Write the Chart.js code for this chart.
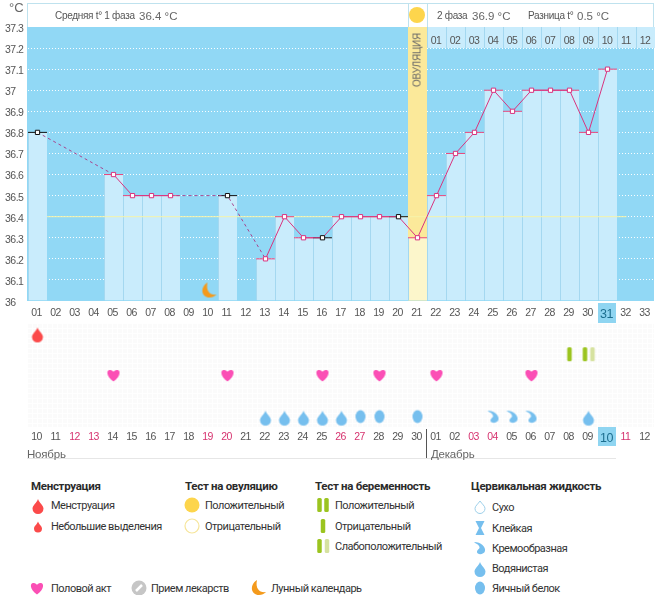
<!DOCTYPE html>
<html lang="ru"><head><meta charset="utf-8">
<script src="https://cdn.jsdelivr.net/npm/chart.js@4"></script>
<style>
html,body{margin:0;padding:0;background:#fff;width:663px;height:595px;overflow:hidden}
#page{position:relative;width:663px;height:595px;font-family:Roboto,sans-serif;color:#333}
.a{position:absolute}
.t{position:absolute;white-space:nowrap;transform:translateY(-50%);font-size:11px;letter-spacing:-.5px;line-height:14px;margin-top:.5px}
.h{font-weight:700;font-size:11.5px;letter-spacing:-.3px;color:#2b2b2b}
.s{font-family:"Liberation Sans";color:#555;font-size:10px;letter-spacing:-.3px}
.b{font-family:"Liberation Sans";font-size:11.5px;color:#666;letter-spacing:0}
.m{font-family:"Liberation Sans";font-size:11.5px;color:#666;letter-spacing:-.2px}
canvas.i{position:absolute;transform:translate(-50%,-50%)}
</style></head><body>
<div id="page">
  <div class="a" style="left:27px;top:3px;width:625px;height:23px;background:#fff;border:1px solid #bfe2ee;border-bottom:none"></div>
  <div class="a" style="left:408px;top:3px;width:18px;height:24px;border-left:1px solid #bfe2ee;border-right:1px solid #bfe2ee"></div>
  <div class="a" style="left:598px;top:303px;width:18px;height:20px;background:#8fd5f1"></div>
  <div class="a" style="left:27px;top:323px;width:627px;height:104px;background-color:#fbfbfb;background-image:linear-gradient(#fff 1px,transparent 1px),linear-gradient(90deg,#fff 1px,transparent 1px);background-size:5px 5px"></div>
  <div class="a" style="left:598px;top:427px;width:18px;height:19px;background:#8fd5f1"></div>
  <div class="a" style="left:426px;top:429px;width:1px;height:29px;background:#555"></div>
  <div class="a" style="left:27px;top:458px;width:589px;height:1px;background:#e6e6e6"></div>
  <canvas id="tempChart" class="a" style="left:0;top:0"></canvas>
  <canvas id="eventChart" class="a" style="left:0;top:323px"></canvas>

  <div class="t" style="left:9px;top:7px;font-family:'Liberation Sans';font-size:13px;color:#666;letter-spacing:0">°C</div>
  <div class="t s" style="left:55px;top:15.5px">Средняя t° 1 фаза</div>
  <div class="t b" style="left:139px;top:15px">36.4 °C</div>
  <div class="t s" style="left:437px;top:15.5px">2 фаза</div>
  <div class="t b" style="left:472px;top:15px">36.9 °C</div>
  <div class="t s" style="left:528px;top:15.5px">Разница t°</div>
  <div class="t b" style="left:577px;top:15px">0.5 °C</div>
  <div class="a" style="left:409px;top:7px;width:16px;height:16px;border-radius:50%;background:#fdd54c"></div>
  <div class="a" style="left:417px;top:60px;transform:translate(-50%,-50%) rotate(-90deg);font-family:'Liberation Sans';font-size:10px;letter-spacing:-.2px;color:#666;white-space:nowrap">ОВУЛЯЦИЯ</div>

  <div class="t m" style="left:27px;top:453px">Ноябрь</div>
  <div class="t m" style="left:431px;top:453px">Декабрь</div>

  <div class="t h" style="left:31px;top:485.5px">Менструация</div>
  <div class="t" style="left:51px;top:505px">Менструация</div>
  <div class="t" style="left:51px;top:526px">Небольшие выделения</div>
  <div class="t h" style="left:185px;top:485.5px">Тест на овуляцию</div>
  <div class="t" style="left:205px;top:505px">Положительный</div>
  <div class="t" style="left:205px;top:526px">Отрицательный</div>
  <div class="t h" style="left:315px;top:485.5px">Тест на беременность</div>
  <div class="t" style="left:335px;top:505px">Положительный</div>
  <div class="t" style="left:335px;top:526px">Отрицательный</div>
  <div class="t" style="left:335px;top:546px">Слабоположительный</div>
  <div class="t h" style="left:471px;top:485.5px">Цервикальная жидкость</div>
  <div class="t" style="left:492px;top:507px">Сухо</div>
  <div class="t" style="left:492px;top:528px">Клейкая</div>
  <div class="t" style="left:492px;top:548px">Кремообразная</div>
  <div class="t" style="left:492px;top:568px">Водянистая</div>
  <div class="t" style="left:492px;top:588px">Яичный белок</div>
  <div class="t" style="left:51px;top:588px">Половой акт</div>
  <div class="t" style="left:151px;top:588px">Прием лекарств</div>
  <div class="t" style="left:271px;top:588px">Лунный календарь</div>
</div>
<script>
// ---------- data ----------
const cycleDays = ['01','02','03','04','05','06','07','08','09','10','11','12','13','14','15','16','17','18','19','20','21','22','23','24','25','26','27','28','29','30','31','32','33'];
const calendarDates = ['10','11','12','13','14','15','16','17','18','19','20','21','22','23','24','25','26','27','28','29','30','01','02','03','04','05','06','07','08','09','10','11','12'];
const weekendIndexes = [2,3,9,10,16,17,23,24,31];
const phase2Labels = ['','','','','','','','','','','','','','','','','','','','','','01','02','03','04','05','06','07','08','09','10','11','12'];
const temperatures = [36.8,null,null,null,36.6,36.5,36.5,36.5,null,null,36.5,null,36.2,36.4,36.3,36.3,36.4,36.4,36.4,36.4,36.3,36.5,36.7,36.8,37,36.9,37,37,37,36.8,37.1,null,null];
const uncertainDays = [0,10,15,19];
const ovulationDay = 20;
const coverlineTemp = 36.4;
const yMin = 36, yMax = 37.3;
const moonDays = [9];
const moonLevel = 36.05;
const eventRows = ['Менструация','Тест на беременность','Половой акт','Тест на овуляцию','Цервикальная жидкость'];
const menstruationDays = [0];
const testNegativeDays = [28];
const testWeakDays = [29];
const intercourseDays = [4,10,15,18,21,26];
const wateryDays = [12,13,14,15,16,29];
const eggWhiteDays = [17,18,20];
const creamyDays = [24,25,26];
</script>
<script>
// ---------- icons ----------
function paint(c,kind){
  const drop=(x,y,r,col)=>{c.fillStyle=col;c.beginPath();c.moveTo(x,y-r*1.65);c.bezierCurveTo(x+r*.25,y-r*.9,x+r,y-r*.5,x+r,y+.1*r);c.arc(x,y+.1*r,r,0,Math.PI);c.bezierCurveTo(x-r,y-r*.5,x-r*.25,y-r*.9,x,y-r*1.65);c.fill()};
  const bar=(x,y,w,h,col)=>{c.fillStyle=col;c.beginPath();c.roundRect(x-w/2,y-h/2,w,h,1.5);c.fill()};
  const W=c.canvas.width,m=W/2;
  switch(kind){
    case 'blood':drop(m,m+3,5.5,'#fb4a4a');break;
    case 'spot':drop(m,m+2,4,'#fb4a4a');break;
    case 'heart':c.fillStyle='#fb4fb5';c.beginPath();c.moveTo(m,m+6.5);c.bezierCurveTo(m-8,m+1,m-7,m-5.5,m-3.4,m-5);c.bezierCurveTo(m-1.5,m-5,m-.5,m-4,m,m-3);c.bezierCurveTo(m+.5,m-4,m+1.5,m-5,m+3.4,m-5);c.bezierCurveTo(m+7,m-5.5,m+8,m+1,m,m+6.5);c.fill();break;
    case 'moon':c.fillStyle='#f49a1c';c.beginPath();c.moveTo(m-1,m-8);c.bezierCurveTo(m-9,m-3,m-7,m+7,m+1,m+7);c.bezierCurveTo(m+4,m+7,m+6,m+6,m+8,m+4);c.bezierCurveTo(m+2,m+5,m-3,m+1,m-1,m-8);c.fill();break;
    case 'test2':bar(m-3.5,m,4.5,14,'#9bc41f');bar(m+3.5,m,4.5,14,'#9bc41f');break;
    case 'test1':bar(m,m,4.5,14,'#9bc41f');break;
    case 'testWeak':bar(m-3.5,m,4.5,14,'#9bc41f');bar(m+4,m,4.5,14,'#d6e2a0');break;
    case 'watery':drop(m,m+3,5.5,'#76bfee');break;
    case 'egg':c.fillStyle='#76bfee';c.beginPath();c.ellipse(m,m,5,6.5,0,0,7);c.fill();break;
    case 'creamy':c.fillStyle='#76bfee';c.beginPath();c.moveTo(m-6,m-6);c.bezierCurveTo(m+1,m-6,m+6,m-1,m+5,m+3);c.bezierCurveTo(m+4,m+7,m-3,m+7,m-3,m+4);c.bezierCurveTo(m-3,m+1,m+1,m+1,m-1,m-2);c.bezierCurveTo(m-2,m-4,m-4,m-4,m-6,m-6);c.fill();break;
    case 'dry':c.strokeStyle='#9ccfe9';c.lineWidth=1;c.beginPath();c.moveTo(m,m-6);c.bezierCurveTo(m+2,m-3,m+5,m-1,m+5,m+1.5);c.arc(m,m+1.5,5,0,Math.PI);c.bezierCurveTo(m-5,m-1,m-2,m-3,m,m-6);c.stroke();break;
    case 'sticky':c.fillStyle='#76bfee';c.beginPath();c.moveTo(m-4.5,m-7);c.lineTo(m+4.5,m-7);c.lineTo(m+1,m);c.lineTo(m+4.5,m+7);c.lineTo(m-4.5,m+7);c.lineTo(m-1,m);c.fill();break;
    case 'pill':c.fillStyle='#c6c6c6';c.beginPath();c.arc(m,m,7.5,0,7);c.fill();c.strokeStyle='#fff';c.lineWidth=2.5;c.beginPath();c.moveTo(m-3,m+3);c.lineTo(m+3,m-3);c.stroke();break;
    case 'sun':c.fillStyle='#fdd54c';c.beginPath();c.arc(m,m,7.5,0,7);c.fill();break;
    case 'sunOff':c.strokeStyle='#f6e59a';c.lineWidth=1.2;c.beginPath();c.arc(m,m,7,0,7);c.stroke();break;
  }
}
function icon(kind,size){const el=document.createElement('canvas');el.width=el.height=size||20;paint(el.getContext('2d'),kind);return el}
[['blood',38,505],['spot',38,526],['sun',192,505],['sunOff',192,526],['test2',323,505],['test1',323,526],['testWeak',323,546],
 ['dry',480,507],['sticky',480,528],['creamy',480,548],['watery',480,568],['egg',480,588],['heart',37,588],['pill',139,588],['moon',258,588]
].forEach(([k,x,y])=>{const e=icon(k);e.className='i';e.style.left=x+'px';e.style.top=y+'px';document.getElementById('page').appendChild(e)});

// ---------- helpers ----------
const fontTick={family:"'Liberation Sans'",size:10.5};
const at=(list,val)=>cycleDays.map((_,i)=>list.includes(i)?val:null);
const markerColor=ctx=>uncertainDays.includes(ctx.dataIndex)?'#111':'#d9347f';
const levelColor=ctx=>uncertainDays.includes(ctx.dataIndex)?'#111':'#e8457c';
const tight={id:'tight',beforeDraw(ch){ch.ctx.letterSpacing='-0.5px'}};
const noPad=(s,h)=>{s.height=h;s.paddingLeft=0;s.paddingRight=0};

const backdrop={id:'backdrop',beforeDraw(ch){const {ctx,chartArea:a}=ch;ctx.save();ctx.fillStyle='#91d8f5';ctx.fillRect(27,a.top,627,a.bottom-a.top);ctx.restore()}};
const coverline={id:'coverline',afterDatasetDraw(ch,args){
  if(args.meta.label!=='temperatureBars')return;
  const x=ch.scales.x,y=ch.scales.y.getPixelForValue(coverlineTemp),w=x.getPixelForValue(1)-x.getPixelForValue(0);
  const c=ch.ctx;c.save();c.strokeStyle='#f5f3ab';c.lineWidth=1;c.beginPath();
  c.moveTo(x.getPixelForValue(1)-w/2,y);c.lineTo(x.getPixelForValue(31),y);c.stroke();c.restore()}};

// ---------- temperature chart ----------
const W=663;
const t=document.getElementById('tempChart');t.width=W;t.height=330;t.style.width=W+'px';t.style.height='330px';
const gap=(c,v)=>c.p0.skip||c.p1.skip?v:undefined;
new Chart(t,{
  data:{labels:cycleDays,datasets:[
    {type:'line',label:'marks',data:temperatures,order:1,spanGaps:true,borderColor:'#d9347f',borderWidth:1,tension:0,
     segment:{borderDash:c=>gap(c,[3,3]),borderColor:c=>gap(c,'#a8468f')},
     pointStyle:'rect',pointRadius:3,pointBorderWidth:1,pointBackgroundColor:'#fff',pointBorderColor:markerColor},
    {type:'line',label:'levels',data:temperatures,order:2,showLine:false,pointStyle:'line',pointRadius:9.5,pointBorderWidth:1,pointBorderColor:levelColor},
    {type:'line',label:'moon',data:at(moonDays,moonLevel),order:3,showLine:false,pointStyle:icon('moon'),pointRadius:10},
    {type:'bar',label:'temperatureBars',data:temperatures,order:5,grouped:false,barPercentage:1,categoryPercentage:1,base:yMin,inflateAmount:0,
     backgroundColor:c=>c.dataIndex===ovulationDay?'#fcf6cb':'#c9ecfc',borderColor:'#a4d8f0',borderWidth:{left:1,right:0,top:0,bottom:0},borderSkipped:false},
    {type:'bar',label:'phase2Cells',data:phase2Labels.map(l=>l?[37.2,yMax]:null),order:5,grouped:false,barPercentage:1,categoryPercentage:1,inflateAmount:0,
     backgroundColor:'#c9ecfc',borderColor:'#a4d8f0',borderWidth:{left:1,right:0,top:0,bottom:0},borderSkipped:false},
    {type:'bar',label:'ovulationColumn',data:at([ovulationDay],yMax),order:6,grouped:false,barPercentage:1,categoryPercentage:1,base:yMin,inflateAmount:0,backgroundColor:'#fbe99a',borderWidth:0}
  ]},
  plugins:[tight,backdrop,coverline],
  options:{responsive:false,animation:false,devicePixelRatio:1,
    layout:{autoPadding:false,padding:{left:5,right:8,top:0,bottom:0}},
    plugins:{legend:{display:false},tooltip:{enabled:false}},
    scales:{
      y:{type:'linear',min:yMin,max:yMax,afterFit:s=>{s.width=23},
         ticks:{stepSize:.1,crossAlign:'far',labelOffset:2,color:'#555',font:fontTick,padding:0,callback:v=>String(+v.toFixed(1))},
         grid:{color:c=>(c.tick.value<=yMin||c.tick.value>=yMax-1e-6)?'transparent':'rgba(255,255,255,.95)',drawTicks:false,lineWidth:1},border:{display:false,dash:[1,2]}},
      x:{type:'category',offset:true,afterFit:s=>noPad(s,29),grid:{display:false,drawTicks:false},border:{display:false},
         ticks:{autoSkip:false,maxRotation:0,labelOffset:-1,padding:6,font:c=>c.index===30?{family:fontTick.family,size:12.5}:fontTick,color:c=>c.index===30?'#1c6e8f':'#555'}},
      xTop:{type:'category',axis:'x',position:'top',labels:phase2Labels,offset:true,afterFit:s=>noPad(s,27),grid:{display:false,drawTicks:false},border:{display:false},
         ticks:{z:1,autoSkip:false,maxRotation:0,mirror:true,padding:8,labelOffset:-0.5,font:fontTick,color:'#555'}}
    }}
});

// ---------- event chart ----------
const e=document.getElementById('eventChart');e.width=W;e.height=135;e.style.width=W+'px';e.style.height='135px';
const row=(name,days,kind)=>({type:'line',label:kind,data:at(days,name),showLine:false,pointStyle:icon(kind),pointRadius:10});
new Chart(e,{
  data:{labels:calendarDates,datasets:[
    row(eventRows[0],menstruationDays,'blood'),
    row(eventRows[1],testNegativeDays,'test1'),
    row(eventRows[1],testWeakDays,'testWeak'),
    row(eventRows[2],intercourseDays,'heart'),
    row(eventRows[4],wateryDays,'watery'),
    row(eventRows[4],eggWhiteDays,'egg'),
    row(eventRows[4],creamyDays,'creamy')
  ]},
  plugins:[tight],
  options:{responsive:false,animation:false,devicePixelRatio:1,
    layout:{autoPadding:false,padding:{left:28,right:8,top:0,bottom:0}},
    plugins:{legend:{display:false},tooltip:{enabled:false}},
    scales:{
      y:{type:'category',labels:eventRows,offset:true,display:false},
      x:{type:'category',offset:true,afterFit:s=>noPad(s,31),grid:{display:false,drawTicks:false},border:{display:false},
         ticks:{autoSkip:false,maxRotation:0,labelOffset:-1,padding:4,
           font:c=>c.index===30?{family:fontTick.family,size:12.5}:fontTick,
           color:c=>c.index===30?'#1c6e8f':(weekendIndexes.includes(c.index)?'#d6336f':'#555')}}
    }}
});
</script>
</body></html>
